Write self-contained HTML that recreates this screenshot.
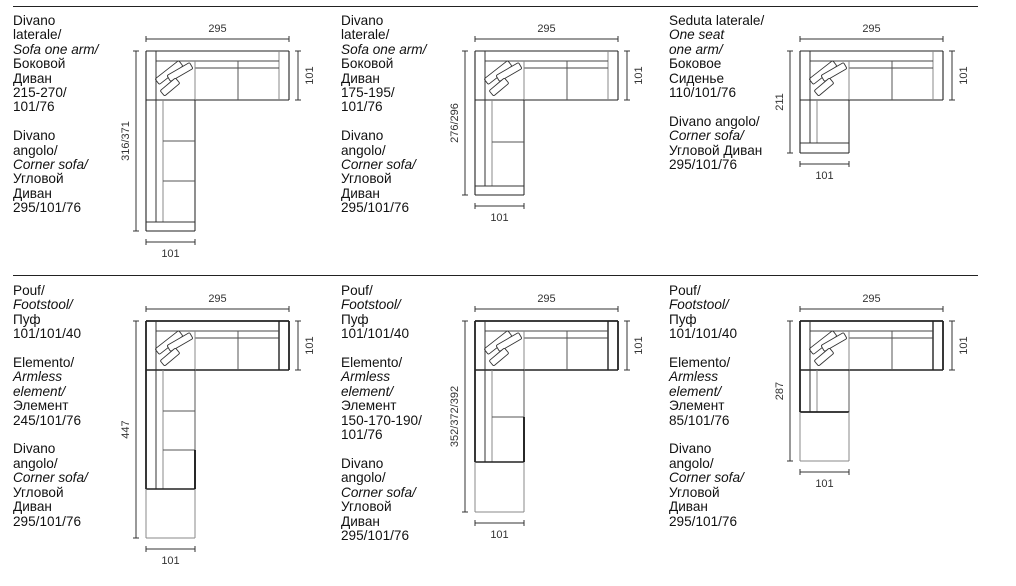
<!DOCTYPE html>
<html><head><meta charset="utf-8"><style>
html,body{margin:0;padding:0;background:#fff;width:1016px;height:586px;overflow:hidden;position:relative}
.t{position:absolute;font:13.6px/14.4px "Liberation Sans","DejaVu Sans",sans-serif;color:#111;white-space:nowrap}
.t i{font-style:italic}
svg{position:absolute;left:0;top:0}
</style></head><body>
<div class="t" style="left:13px;top:14px">Divano<br>laterale/<br><i>Sofa one arm/</i><br>Боковой<br>Диван<br>215-270/<br>101/76<br><br>Divano<br>angolo/<br><i>Corner sofa/</i><br>Угловой<br>Диван<br>295/101/76</div>
<div class="t" style="left:341px;top:14px">Divano<br>laterale/<br><i>Sofa one arm/</i><br>Боковой<br>Диван<br>175-195/<br>101/76<br><br>Divano<br>angolo/<br><i>Corner sofa/</i><br>Угловой<br>Диван<br>295/101/76</div>
<div class="t" style="left:669px;top:14px">Seduta laterale/<br><i>One seat</i><br><i>one arm/</i><br>Боковое<br>Сиденье<br>110/101/76<br><br>Divano angolo/<br><i>Corner sofa/</i><br>Угловой Диван<br>295/101/76</div>
<div class="t" style="left:13px;top:284px">Pouf/<br><i>Footstool/</i><br>Пуф<br>101/101/40<br><br>Elemento/<br><i>Armless</i><br><i>element/</i><br>Элемент<br>245/101/76<br><br>Divano<br>angolo/<br><i>Corner sofa/</i><br>Угловой<br>Диван<br>295/101/76</div>
<div class="t" style="left:341px;top:284px">Pouf/<br><i>Footstool/</i><br>Пуф<br>101/101/40<br><br>Elemento/<br><i>Armless</i><br><i>element/</i><br>Элемент<br>150-170-190/<br>101/76<br><br>Divano<br>angolo/<br><i>Corner sofa/</i><br>Угловой<br>Диван<br>295/101/76</div>
<div class="t" style="left:669px;top:284px">Pouf/<br><i>Footstool/</i><br>Пуф<br>101/101/40<br><br>Elemento/<br><i>Armless</i><br><i>element/</i><br>Элемент<br>85/101/76<br><br>Divano<br>angolo/<br><i>Corner sofa/</i><br>Угловой<br>Диван<br>295/101/76</div>
<svg id="s" width="1016" height="586" xmlns="http://www.w3.org/2000/svg" font-family="Liberation Sans, sans-serif" font-size="11" fill="none">
<line x1="13" y1="6.5" x2="978" y2="6.5" stroke="#222" stroke-width="1"/>
<line x1="13" y1="275.5" x2="978" y2="275.5" stroke="#222" stroke-width="1"/>
</svg>
<script>
(function(){
var s=document.getElementById('s'),h='';
function L(x1,y1,x2,y2,c,w){h+='<line x1="'+x1+'" y1="'+y1+'" x2="'+x2+'" y2="'+y2+'" stroke="'+(c||'#333')+'" stroke-width="'+(w||1)+'"/>';}
function T(x,y,t,r){h+='<text x="'+x+'" y="'+y+'" fill="#333" text-anchor="middle"'+(r?' transform="rotate(-90 '+x+' '+y+')"':'')+' dominant-baseline="middle">'+t+'</text>';}
function sofa(ox,oy,p){
 var b=p.b,g='#888';
 var W=143;
 L(ox,oy,ox+W,oy,'#222',p.bold?1.8:1.1);
 L(ox+W,oy,ox+W,oy+49,'#222',p.bold?1.8:1.1);
 L(ox+49,oy+49,ox+W,oy+49,'#222',p.bold?1.6:1.1);
 L(ox+133,oy,ox+133,oy+49,p.bold?'#222':g,p.bold?1.4:1);
 L(ox+10,oy+10,ox+133,oy+10,'#444',1);
 L(ox+49,oy+17,ox+133,oy+17,'#444',1);
 L(ox+49,oy+10,ox+49,oy+49,g,1);
 L(ox+92,oy+10,ox+92,oy+49,'#555',1);
 h+='<g stroke="#333" stroke-width="0.9" fill="#fff" transform="translate('+ox+' '+oy+')">'+
 '<rect x="-15" y="-3.5" width="30" height="7" rx="1.5" transform="translate(23 21.5) rotate(-38)"/>'+
 '<rect x="-13" y="-3.5" width="26" height="7" rx="1.5" transform="translate(34 21) rotate(-30)"/>'+
 '<rect x="-10" y="-3.5" width="20" height="7" rx="1.5" transform="translate(24 36) rotate(-40)"/></g>';
 var bw=p.bold?1.8:1.1;
 L(ox,oy,ox,oy+b,'#222',bw);
 L(ox+49,oy+49,ox+49,oy+b,p.bold?'#666':'#333',1.1);
 L(ox,oy+49,ox+49,oy+49,'#222',p.bold?1.6:1);
 L(ox+10,oy,ox+10,oy+(p.arm||b),'#333',1);
 L(ox+17,oy+49,ox+17,oy+(p.arm||b),g,1);
 (p.div||[]).forEach(function(d){L(ox+17,oy+d,ox+49,oy+d,'#555',1);});
 if(p.arm){L(ox,oy+p.arm,ox+49,oy+p.arm,'#333',1);}
 L(ox,oy+b,ox+49,oy+b,'#222',p.bline||1.1);
 if(p.boldr){L(ox+49,oy+p.boldr,ox+49,oy+b,'#111',1.8);}
 if(p.pouf){L(ox,oy+b,ox,oy+p.pouf,g,1);L(ox+49,oy+b,ox+49,oy+p.pouf,g,1);L(ox,oy+p.pouf,ox+49,oy+p.pouf,g,1);}
 var tot=p.pouf||b;
 var dc='#333';
 L(ox,oy-12,ox+W,oy-12,dc,1);L(ox,oy-15,ox,oy-9,dc,1);L(ox+W,oy-15,ox+W,oy-9,dc,1);T(ox+71.5,oy-22,'295');
 L(ox+152,oy,ox+152,oy+49,dc,1);L(ox+149,oy,ox+155,oy,dc,1);L(ox+149,oy+49,ox+155,oy+49,dc,1);T(ox+164,oy+24.5,'101',1);
 L(ox-10,oy,ox-10,oy+tot,dc,1);L(ox-13,oy,ox-7,oy,dc,1);L(ox-13,oy+tot,ox-7,oy+tot,dc,1);T(ox-20,oy+tot/2,p.lab,1);
 L(ox,oy+tot+11,ox+49,oy+tot+11,dc,1);L(ox,oy+tot+8,ox,oy+tot+14,dc,1);L(ox+49,oy+tot+8,ox+49,oy+tot+14,dc,1);T(ox+24.5,oy+tot+23,'101');
}
sofa(146,51,{b:180,arm:171,div:[90,130],lab:'316/371'});
sofa(475,51,{b:144,arm:135,div:[91],lab:'276/296'});
sofa(800,51,{b:102,arm:92,div:[],lab:'211'});
sofa(146,321,{b:168,div:[90,129],boldr:129,pouf:217,bold:1,lab:'447',bline:1.6});
sofa(475,321,{b:141,div:[96],boldr:96,pouf:191,bold:1,lab:'352/372/392',bline:1.6});
sofa(800,321,{b:91,div:[],pouf:140,bold:1,lab:'287',bline:1.8});
s.insertAdjacentHTML('beforeend',h);
})();
</script>
</body></html>
